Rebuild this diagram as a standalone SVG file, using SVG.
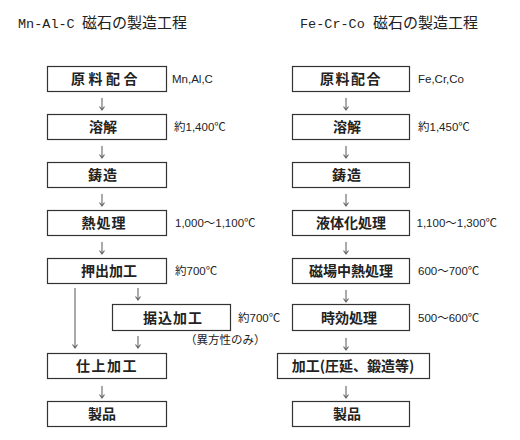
<svg xmlns="http://www.w3.org/2000/svg" width="520" height="440" viewBox="0 0 520 440">
<style>
.box{fill:#fff;stroke:#333;stroke-width:1.2}
.lbl{font-family:"Noto Sans CJK JP",sans-serif;font-weight:bold;font-size:14px;fill:#222;text-anchor:middle}
.note{font-family:"Liberation Sans","Noto Sans CJK JP",sans-serif;font-size:11.5px;fill:#222}
.ttl{font-family:"Liberation Mono","Noto Sans CJK JP",monospace;font-size:13.5px;fill:#222}
.ttlj{font-family:"Noto Sans CJK JP",sans-serif;font-size:15px;fill:#222}
.arr{fill:none;stroke:#666;stroke-width:1.1}
</style>
<rect width="520" height="440" fill="#fff"/>
<text x="18" y="28"><tspan class="ttl">Mn-Al-C</tspan><tspan class="ttlj" x="82">磁石の製造工程</tspan></text>
<text x="300" y="28"><tspan class="ttl">Fe-Cr-Co</tspan><tspan class="ttlj" x="373">磁石の製造工程</tspan></text>

<g id="connectors">
<path class="arr" d="M102,98V110M99.5,106.5L102,110L104.5,106.5"/>
<path class="arr" d="M102,146V158M99.5,154.5L102,158L104.5,154.5"/>
<path class="arr" d="M102,194V206M99.5,202.5L102,206L104.5,202.5"/>
<path class="arr" d="M102,242V254M99.5,250.5L102,254L104.5,250.5"/>
<path class="arr" d="M75,288V348M72.5,344.5L75,348L77.5,344.5"/>
<path class="arr" d="M138,288V300M135.5,296.5L138,300L140.5,296.5"/>
<path class="arr" d="M138,336V348M135.5,344.5L138,348L140.5,344.5"/>
<path class="arr" d="M102,386V398M99.5,394.5L102,398L104.5,394.5"/>
<path class="arr" d="M346,98V110M343.5,106.5L346,110L348.5,106.5"/>
<path class="arr" d="M346,146V158M343.5,154.5L346,158L348.5,154.5"/>
<path class="arr" d="M346,194V206M343.5,202.5L346,206L348.5,202.5"/>
<path class="arr" d="M346,242V254M343.5,250.5L346,254L348.5,250.5"/>
<path class="arr" d="M346,290V302M343.5,298.5L346,302L348.5,298.5"/>
<path class="arr" d="M346,338V350M343.5,346.5L346,350L348.5,346.5"/>
<path class="arr" d="M346,386V398M343.5,394.5L346,398L348.5,394.5"/>
</g>

<g id="mn-genryo"><rect class="box" x="47.5" y="66.5" width="119" height="25"/><text class="lbl" x="106" y="84" letter-spacing="3.5">原料配合</text><text class="note" x="172" y="83">Mn,Al,C</text></g>
<g id="mn-yokai"><rect class="box" x="47.5" y="114.5" width="119" height="25"/><text class="lbl" x="103" y="132">溶解</text><text class="note" x="174" y="131">約1,400℃</text></g>
<g id="mn-chuzo"><rect class="box" x="47.5" y="162.5" width="119" height="25"/><text class="lbl" x="103" y="180" letter-spacing="1">鋳造</text></g>
<g id="mn-netsu"><rect class="box" x="47.5" y="210.5" width="119" height="25"/><text class="lbl" x="104" y="228" letter-spacing="1">熱処理</text><text class="note" x="175" y="227">1,000～1,100℃</text></g>
<g id="mn-oshidashi"><rect class="box" x="47.5" y="258.5" width="119" height="25"/><text class="lbl" x="109" y="276">押出加工</text><text class="note" x="175" y="275">約700℃</text></g>
<g id="mn-suekomi"><rect class="box" x="112.5" y="304.5" width="118" height="26"/><text class="lbl" x="173" y="322.5" letter-spacing="1">据込加工</text><text class="note" x="238" y="321.5">約700℃</text><text class="note" x="185" y="344" font-size="11">（異方性のみ）</text></g>
<g id="mn-shiage"><rect class="box" x="47.5" y="353.5" width="119" height="25"/><text class="lbl" x="107" y="371" letter-spacing="1.5">仕上加工</text></g>
<g id="mn-seihin"><rect class="box" x="47.5" y="401.5" width="119" height="25"/><text class="lbl" x="102" y="419">製品</text></g>

<g id="fe-genryo"><rect class="box" x="292.5" y="66.5" width="117" height="25"/><text class="lbl" x="351" y="84" letter-spacing="1.5">原料配合</text><text class="note" x="418" y="83">Fe,Cr,Co</text></g>
<g id="fe-yokai"><rect class="box" x="292.5" y="114.5" width="117" height="25"/><text class="lbl" x="347" y="132">溶解</text><text class="note" x="418" y="131">約1,450℃</text></g>
<g id="fe-chuzo"><rect class="box" x="292.5" y="162.5" width="117" height="25"/><text class="lbl" x="347" y="180" letter-spacing="1">鋳造</text></g>
<g id="fe-ekitai"><rect class="box" x="292.5" y="210.5" width="117" height="25"/><text class="lbl" x="351" y="228">液体化処理</text><text class="note" x="416.5" y="227">1,100～1,300℃</text></g>
<g id="fe-jiba"><rect class="box" x="292.5" y="258.5" width="117" height="25"/><text class="lbl" x="351" y="276">磁場中熱処理</text><text class="note" x="418" y="275">600～700℃</text></g>
<g id="fe-jiko"><rect class="box" x="292.5" y="304.5" width="117" height="26"/><text class="lbl" x="349" y="322.5">時効処理</text><text class="note" x="418" y="321.5">500～600℃</text></g>
<g id="fe-kako"><rect class="box" x="277.5" y="353.5" width="152" height="25"/><text class="lbl" x="353" y="371">加工(圧延、鍛造等)</text></g>
<g id="fe-seihin"><rect class="box" x="292.5" y="401.5" width="117" height="25"/><text class="lbl" x="347" y="419">製品</text></g>
</svg>
